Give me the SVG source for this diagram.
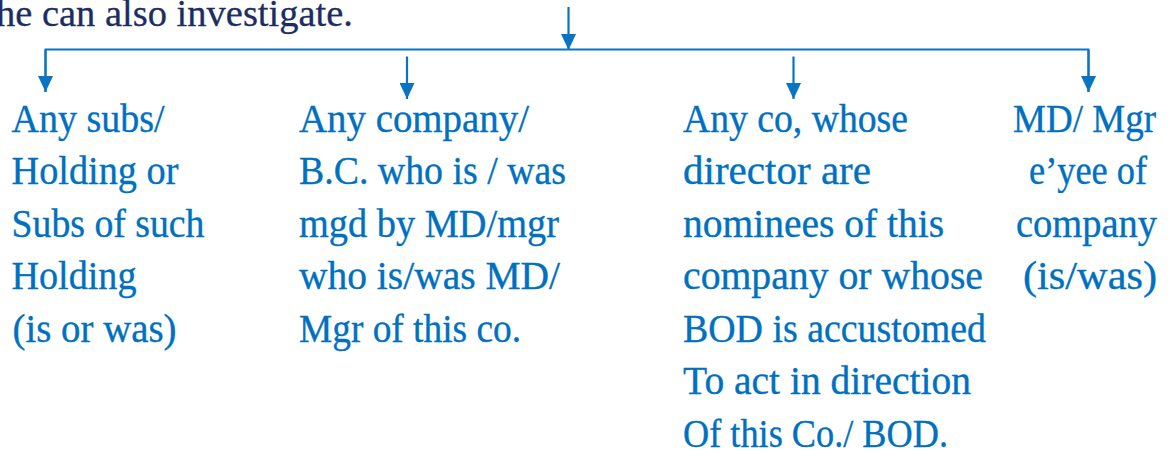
<svg xmlns="http://www.w3.org/2000/svg" width="1170" height="453" viewBox="0 0 1170 453">
  <style>
    .lead { font-family: "Liberation Serif", "DejaVu Serif", serif; font-size: 38px; fill: #1C2D62; stroke: #1C2D62; stroke-width: 0.3; }
    .item { font-family: "Liberation Serif", "DejaVu Serif", serif; font-size: 39px; fill: #0070C0; stroke: #0070C0; stroke-width: 0.35; }
    .wire { stroke: #0A74C4; stroke-width: 2; fill: none; }
    .arrow { stroke: #0A74C4; stroke-width: 2.2; fill: none; marker-end: url(#head); }
  </style>
  <defs>
    <marker id="head" markerUnits="userSpaceOnUse" markerWidth="16" markerHeight="15" refX="16" refY="7.5" orient="auto">
      <path d="M0,0 L16,7.5 L0,15 Z" fill="#0A74C4"/>
    </marker>
  </defs>

  <rect width="1170" height="453" fill="#FFFFFF"/>

  <!-- closing words of the preceding sentence, running in from the left edge -->
  <text class="lead" x="-4" y="25.5" textLength="357" lengthAdjust="spacingAndGlyphs">he can also investigate.</text>

  <!-- connectors: feed arrow, distribution bar and branch arrows -->
  <g id="connectors">
    <line class="arrow" x1="568.5" y1="7" x2="568.5" y2="50"/>
    <polyline class="wire" points="45.5,92 45.5,49.5 1088.5,49.5 1088.5,92"/>
    <line class="arrow" x1="45.5" y1="50" x2="45.5" y2="92"/>
    <line class="arrow" x1="407" y1="56.5" x2="407" y2="99"/>
    <line class="arrow" x1="793.5" y1="56.5" x2="793.5" y2="99"/>
    <line class="arrow" x1="1088.5" y1="50" x2="1088.5" y2="92"/>
  </g>

  <g id="node-subsidiary" class="item">
    <text x="11.5" y="131.5" textLength="153" lengthAdjust="spacingAndGlyphs">Any subs/</text>
    <text x="11.5" y="184" textLength="167" lengthAdjust="spacingAndGlyphs">Holding or</text>
    <text x="11.5" y="236.5" textLength="193" lengthAdjust="spacingAndGlyphs">Subs of such</text>
    <text x="11.5" y="289" textLength="125" lengthAdjust="spacingAndGlyphs">Holding</text>
    <text x="12.5" y="341.5" textLength="164" lengthAdjust="spacingAndGlyphs">(is or was)</text>
  </g>

  <g id="node-managed-company" class="item">
    <text x="299" y="131.5" textLength="230" lengthAdjust="spacingAndGlyphs">Any company/</text>
    <text x="299" y="184" textLength="267" lengthAdjust="spacingAndGlyphs">B.C. who is / was</text>
    <text x="299" y="236.5" textLength="260" lengthAdjust="spacingAndGlyphs">mgd by MD/mgr</text>
    <text x="299" y="289" textLength="261" lengthAdjust="spacingAndGlyphs">who is/was MD/</text>
    <text x="299" y="341.5" textLength="222" lengthAdjust="spacingAndGlyphs">Mgr of this co.</text>
  </g>

  <g id="node-nominee-company" class="item">
    <text x="683" y="131.5" textLength="225" lengthAdjust="spacingAndGlyphs">Any co, whose</text>
    <text x="683" y="184" textLength="188" lengthAdjust="spacingAndGlyphs">director are</text>
    <text x="683" y="236.5" textLength="261" lengthAdjust="spacingAndGlyphs">nominees of this</text>
    <text x="683" y="289" textLength="300" lengthAdjust="spacingAndGlyphs">company or whose</text>
    <text x="683" y="341.5" textLength="303" lengthAdjust="spacingAndGlyphs">BOD is accustomed</text>
    <text x="683" y="394" textLength="288" lengthAdjust="spacingAndGlyphs">To act in direction</text>
    <text x="683" y="446.5" textLength="265" lengthAdjust="spacingAndGlyphs">Of this Co./ BOD.</text>
  </g>

  <g id="node-employee" class="item">
    <text x="1013" y="131.5" textLength="143" lengthAdjust="spacingAndGlyphs">MD/ Mgr</text>
    <text x="1029" y="184" textLength="118" lengthAdjust="spacingAndGlyphs">e’yee of</text>
    <text x="1016" y="236.5" textLength="141" lengthAdjust="spacingAndGlyphs">company</text>
    <text x="1023" y="289" textLength="134" lengthAdjust="spacingAndGlyphs">(is/was)</text>
  </g>
</svg>
